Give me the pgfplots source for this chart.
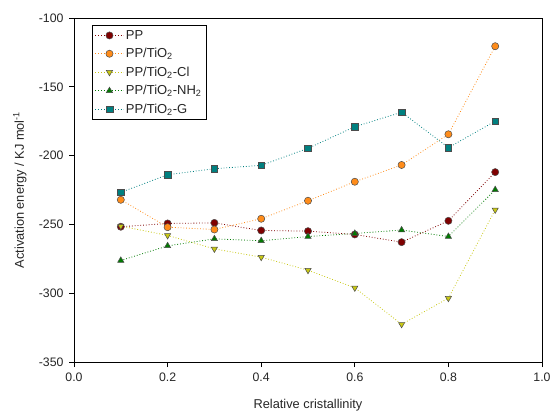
\documentclass[border=0pt]{standalone}
\usepackage{pgfplots}
\pgfplotsset{compat=1.18}
\usepackage{fontspec}
\setmainfont{Liberation Sans}
\definecolor{cPP}{HTML}{7F0000}
\definecolor{cTi}{HTML}{FF8C1A}
\definecolor{cCl}{HTML}{C8C814}
\definecolor{cNH}{HTML}{007A00}
\definecolor{cG}{HTML}{008080}
\begin{document}
\begin{tikzpicture}
\useasboundingbox (-74pt,-54pt) rectangle (479pt,362pt);
\begin{axis}[
  at={(0,0)}, anchor=south west,
  scale only axis, width=468pt, height=344pt,
  xmin=0, xmax=1, ymin=-350, ymax=-100,
  xtick={0,0.2,...,1.0}, ytick={-350,-300,...,-100},
  xticklabel style={/pgf/number format/.cd, fixed, fixed zerofill, precision=1},
  yticklabel style={/pgf/number format/.cd, fixed, precision=0},
  /pgf/number format/assume math mode=true,
  tick pos=left, tick align=outside,
  major tick length=5pt,
  tick style={black, line width=0.7pt},
  axis line style={line width=0.7pt},
  ticklabel style={font=\fontsize{12.3}{14}\selectfont, text=black!85},
  xticklabel shift=2pt, yticklabel shift=2pt,
  label style={font=\fontsize{12.8}{15}\selectfont, text=black!85},
  xlabel={Relative cristallinity},
  ylabel={Activation energy / KJ mol\textsuperscript{-1}},
  xlabel style={at={(axis description cs:0.5,0)}, anchor=north, yshift=-34pt},
  ylabel style={at={(axis description cs:0,0.5)}, anchor=south, yshift=44pt},
  legend style={at={(axis cs:0.038,-105)}, anchor=north west,
    font=\fontsize{13}{15}\selectfont, draw=black, line width=0.7pt,
    inner xsep=3pt, inner ysep=3pt, row sep=3.6pt, cells={anchor=west, text=black!85}},
  legend image code/.code={\draw[mark repeat=2, mark phase=2, line width=0.7pt] plot coordinates {(0pt,0pt) (14pt,0pt) (28pt,0pt)};},
  every axis plot/.append style={dotted, line width=0.8pt, mark size=3.6pt},
]
\addplot[color=cPP, mark=*, mark options={solid, fill=cPP, draw=black!70, line width=0.5pt}] coordinates {
(0.1,-251.7) (0.2,-249.3) (0.3,-248.9) (0.4,-254.4) (0.5,-254.9) (0.6,-257.3) (0.7,-262.9) (0.8,-247.4) (0.9,-212)};
\addlegendentry{PP}
\addplot[color=cTi, mark=*, mark options={solid, fill=cTi, draw=black!70, line width=0.5pt}] coordinates {
(0.1,-232.1) (0.2,-252) (0.3,-253.7) (0.4,-245.9) (0.5,-232.8) (0.6,-219) (0.7,-206.8) (0.8,-184.5) (0.9,-120.5)};
\addlegendentry{PP/TiO\textsubscript{2}}
\addplot[color=cCl, mark=triangle*, mark options={solid, rotate=180, fill=cCl, draw=black!70, line width=0.5pt}] coordinates {
(0.1,-251.2) (0.2,-258) (0.3,-267.8) (0.4,-273.8) (0.5,-283.3) (0.6,-296.1) (0.7,-322.6) (0.8,-303.6) (0.9,-239.4)};
\addlegendentry{PP/TiO\textsubscript{2}-Cl}
\addplot[color=cNH, mark=triangle*, mark options={solid, fill=cNH, draw=black!70, line width=0.5pt}] coordinates {
(0.1,-276.2) (0.2,-265.6) (0.3,-260.5) (0.4,-261.9) (0.5,-258.8) (0.6,-256.6) (0.7,-254.1) (0.8,-258.8) (0.9,-224.8)};
\addlegendentry{PP/TiO\textsubscript{2}-NH\textsubscript{2}}
\addplot[color=cG, mark=square*, mark options={solid, fill=cG, draw=black!70, line width=0.5pt}, mark size=3.3pt] coordinates {
(0.1,-226.7) (0.2,-213.9) (0.3,-209.5) (0.4,-207.1) (0.5,-194.7) (0.6,-179) (0.7,-168.5) (0.8,-194.2) (0.9,-175)};
\addlegendentry{PP/TiO\textsubscript{2}-G}
\end{axis}
\end{tikzpicture}
\end{document}
